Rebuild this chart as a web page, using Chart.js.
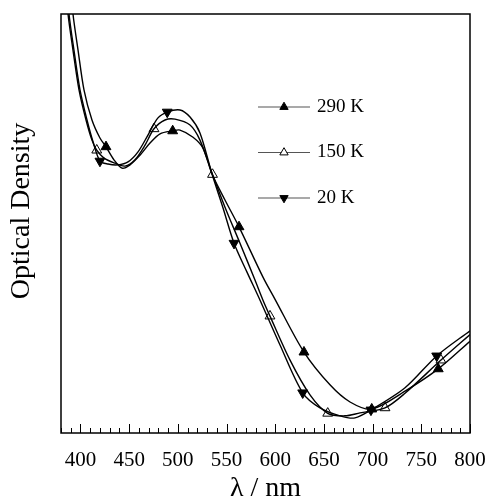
<!DOCTYPE html>
<html>
<head>
<meta charset="utf-8">
<script src="https://cdn.jsdelivr.net/npm/chart.js@4.4.0/dist/chart.umd.min.js"></script>
<style>
  html, body { margin: 0; padding: 0; background: #fff; }
  #wrap { width: 491px; height: 502px; }
</style>
</head>
<body>
<div id="wrap"><canvas id="chart"></canvas></div>
<script>
// wavelength (nm) / optical density
const wl290 = [390.5, 392.3, 397.5, 403.6, 411.8, 420.0, 426.2, 434.4, 442.6, 450.9, 461.1, 471.4, 481.7, 494.7, 502.2, 515.6, 525.8, 535.1, 548.4, 562.8, 587.4, 599.8, 629.5, 656.2, 676.8, 699.1, 733.3, 767.4, 800];
const od290 = [1.06, 1.000, 0.914, 0.819, 0.747, 0.704, 0.683, 0.652, 0.632, 0.640, 0.663, 0.692, 0.714, 0.721, 0.723, 0.706, 0.680, 0.618, 0.556, 0.492, 0.372, 0.319, 0.193, 0.115, 0.074, 0.057, 0.100, 0.153, 0.219];

const wl150 = [385.6, 387.2, 392.3, 398.5, 405.7, 411.8, 416.7, 424.2, 435.5, 445.7, 456.0, 466.3, 475.5, 486.8, 497.1, 512.5, 522.7, 535.6, 548.4, 563.8, 579.2, 587.4, 594.6, 615.2, 635.7, 653.9, 671.6, 687.0, 712.7, 733.3, 770.2, 800];
const od150 = [1.057, 1.000, 0.914, 0.819, 0.747, 0.699, 0.675, 0.656, 0.644, 0.637, 0.652, 0.687, 0.726, 0.747, 0.749, 0.735, 0.699, 0.617, 0.539, 0.453, 0.365, 0.317, 0.279, 0.174, 0.091, 0.047, 0.041, 0.048, 0.060, 0.095, 0.174, 0.235];

const wl20 = [386.7, 388.2, 393.3, 399.5, 406.7, 412.9, 420.0, 428.3, 438.5, 448.8, 459.1, 469.3, 479.6, 489.1, 502.2, 512.5, 522.7, 535.1, 546.4, 557.7, 571.0, 584.4, 604.9, 628.2, 646.0, 666.5, 681.9, 698.3, 733.3, 765.8, 800];
const od20 = [1.057, 1.000, 0.914, 0.819, 0.747, 0.695, 0.649, 0.642, 0.640, 0.647, 0.671, 0.711, 0.752, 0.766, 0.771, 0.754, 0.716, 0.618, 0.537, 0.453, 0.384, 0.317, 0.210, 0.096, 0.060, 0.041, 0.036, 0.055, 0.108, 0.184, 0.244];

// symbol positions
const mk290Wl = [426.2, 494.7, 562.8, 629.5, 699.1, 767.4];
const mk290Od = [0.683, 0.721, 0.492, 0.193, 0.057, 0.153];
const mk150Wl = [416.7, 475.5, 535.6, 594.6, 653.9, 712.7, 770.2];
const mk150Od = [0.675, 0.726, 0.617, 0.279, 0.047, 0.060, 0.174];
const mk20Wl = [420.0, 489.1, 557.7, 628.2, 698.3, 765.8];
const mk20Od = [0.649, 0.766, 0.453, 0.096, 0.055, 0.184];

const seriesLabels = ['290 K', '150 K', '20 K'];
const xMin = 380, xMax = 800;

const FONT = '"Liberation Serif", "Times New Roman", serif';
const pts = (xs, ys) => xs.map((x, i) => ({ x: x, y: ys[i] }));

function curve(xs, ys) {
  return {
    data: pts(xs, ys),
    showLine: true,
    borderColor: '#000',
    borderWidth: 1.4,
    pointRadius: 0,
    tension: 0.3,
    fill: false
  };
}

function symbols(xs, ys, fillColor, rot) {
  return {
    data: pts(xs, ys),
    showLine: false,
    pointStyle: 'triangle',
    rotation: rot,
    pointRadius: 5.7,
    backgroundColor: fillColor,
    borderColor: '#000',
    borderWidth: 1
  };
}

// frame, inward ticks on the bottom axis, y title
const framePlugin = {
  id: 'frame',
  afterDatasetsDraw(chart) {
    const { ctx, chartArea: a } = chart;
    const xs = chart.scales.x;
    ctx.save();
    ctx.strokeStyle = '#000';
    ctx.lineWidth = 1.5;
    ctx.strokeRect(a.left, a.top, a.right - a.left, a.bottom - a.top);
    ctx.lineWidth = 1;
    ctx.beginPath();
    for (let v = xMin; v <= xMax; v += 10) {
      const px = Math.round(xs.getPixelForValue(v)) + 0.5;
      const len = v % 50 === 0 ? 9 : 5;
      ctx.moveTo(px, a.bottom);
      ctx.lineTo(px, a.bottom - len);
    }
    ctx.stroke();

    ctx.translate(22, 211);
    ctx.rotate(-Math.PI / 2);
    ctx.fillStyle = '#000';
    ctx.font = '28px ' + FONT;
    ctx.textAlign = 'center';
    ctx.textBaseline = 'middle';
    ctx.fillText('Optical Density', 0, 0);
    ctx.restore();
  }
};

// legend inside the plot
const legendPlugin = {
  id: 'insideLegend',
  afterDraw(chart) {
    const { ctx, chartArea: a } = chart;
    const styles = [
      { fill: '#000', down: false },
      { fill: '#fff', down: false },
      { fill: '#000', down: true }
    ];
    ctx.save();
    seriesLabels.forEach((lab, i) => {
      const y = a.top + 93 + i * 45.5;
      const x0 = a.left + 197, x1 = a.left + 249, xm = a.left + 223;
      ctx.strokeStyle = '#555';
      ctx.lineWidth = 1.2;
      ctx.beginPath();
      ctx.moveTo(x0, y);
      ctx.lineTo(x1, y);
      ctx.stroke();
      const r = 4.8;
      const s = styles[i];
      const sgn = s.down ? -1 : 1;
      ctx.beginPath();
      ctx.moveTo(xm, y - sgn * r);
      ctx.lineTo(xm + r * 0.866, y + sgn * r * 0.5);
      ctx.lineTo(xm - r * 0.866, y + sgn * r * 0.5);
      ctx.closePath();
      ctx.fillStyle = s.fill;
      ctx.fill();
      ctx.strokeStyle = '#000';
      ctx.lineWidth = 1;
      ctx.stroke();
      ctx.fillStyle = '#000';
      ctx.font = '19px ' + FONT;
      ctx.textBaseline = 'middle';
      ctx.fillText(lab, a.left + 256, y);
    });
    ctx.restore();
  }
};

new Chart(document.getElementById('chart'), {
  type: 'scatter',
  data: {
    datasets: [
      curve(wl290, od290),
      curve(wl150, od150),
      curve(wl20, od20),
      symbols(mk290Wl, mk290Od, '#000', 0),
      symbols(mk150Wl, mk150Od, '#fff', 0),
      symbols(mk20Wl, mk20Od, '#000', 180)
    ]
  },
  options: {
    responsive: true,
    maintainAspectRatio: false,
    animation: false,
    layout: { padding: { top: 14, right: 21, left: 0, bottom: 0 } },
    plugins: { legend: { display: false }, tooltip: { enabled: false } },
    scales: {
      x: {
        type: 'linear',
        min: xMin,
        max: xMax,
        afterFit(scale) {
          scale.height = 69;
          scale.paddingLeft = 0;
          scale.paddingRight = 0;
        },
        grid: { display: false, drawTicks: false },
        border: { display: false },
        ticks: {
          stepSize: 10,
          autoSkip: false,
          maxRotation: 0,
          padding: 15,
          color: '#000',
          font: { family: FONT, size: 21 },
          callback: (v) => (v % 50 === 0 ? String(v) : '')
        },
        title: {
          display: true,
          text: 'λ / nm',
          color: '#000',
          font: { family: FONT, size: 28, lineHeight: 1.0 },
          padding: { top: 0, bottom: -1 }
        }
      },
      y: {
        min: 0,
        max: 1.0,
        afterFit(scale) { scale.width = 61; },
        grid: { display: false, drawTicks: false },
        border: { display: false },
        ticks: { display: false },
        title: { display: false }
      }
    }
  },
  plugins: [framePlugin, legendPlugin]
});
</script>
</body>
</html>
